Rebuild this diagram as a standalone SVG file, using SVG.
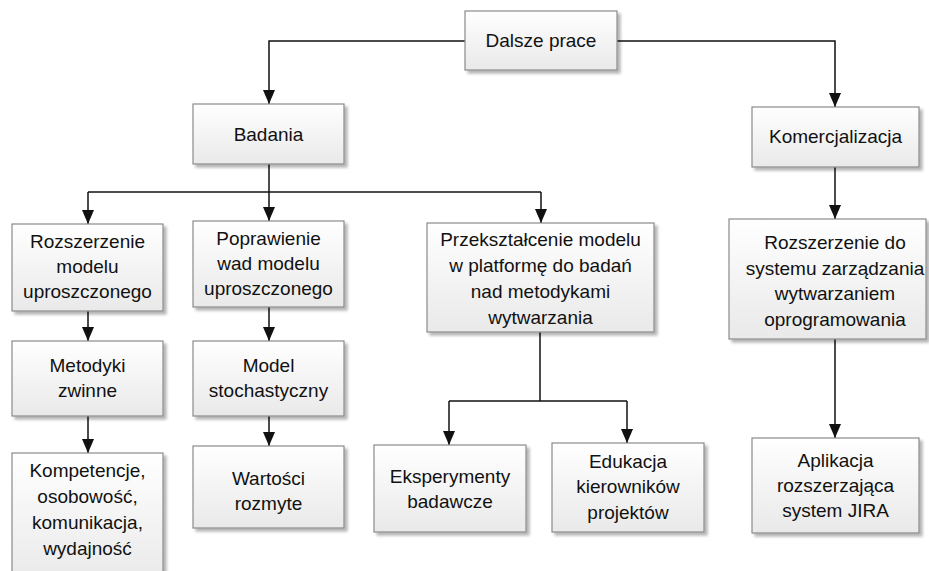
<svg xmlns="http://www.w3.org/2000/svg" width="929" height="571" viewBox="0 0 929 571">
  <defs>
    <linearGradient id="boxFill" x1="0" y1="0" x2="0" y2="1">
      <stop offset="0" stop-color="#ffffff"/>
      <stop offset="1" stop-color="#e9e9e9"/>
    </linearGradient>
    <filter id="shadow" x="-10%" y="-10%" width="130%" height="130%">
      <feGaussianBlur in="SourceAlpha" stdDeviation="1.5"/>
      <feOffset dx="2.5" dy="2.5" result="off"/>
      <feComponentTransfer><feFuncA type="linear" slope="0.3"/></feComponentTransfer>
      <feMerge><feMergeNode/><feMergeNode in="SourceGraphic"/></feMerge>
    </filter>
    <!-- arrowhead: tip at the end of the path -->
    <marker id="arrow" viewBox="0 0 14 12" refX="14" refY="6" markerWidth="14" markerHeight="12" markerUnits="userSpaceOnUse" orient="auto">
      <path d="M0,0 L14,6 L0,12 Z" fill="#111"/>
    </marker>
  </defs>
  <style>
    .box { fill: url(#boxFill); stroke: #8a8a8a; stroke-width: 1.2; filter: url(#shadow); }
    .lbl { font-family: "Liberation Sans", Arial, sans-serif; font-size: 19px; fill: #111; text-anchor: middle; }
    .conn { fill: none; stroke: #111; stroke-width: 1.5; }
  </style>
  <rect width="929" height="571" fill="#ffffff"/>

  <!-- connectors -->
  <g id="connectors">
    <path class="conn" d="M465,41 H269 V104" marker-end="url(#arrow)"/>
    <path class="conn" d="M617,41 H835 V107" marker-end="url(#arrow)"/>
    <path class="conn" d="M269,164 V192"/>
    <path class="conn" d="M88,192 H541"/>
    <path class="conn" d="M88,192 V224" marker-end="url(#arrow)"/>
    <path class="conn" d="M269,192 V221" marker-end="url(#arrow)"/>
    <path class="conn" d="M541,192 V223" marker-end="url(#arrow)"/>
    <path class="conn" d="M88,311 V341" marker-end="url(#arrow)"/>
    <path class="conn" d="M269,307 V341" marker-end="url(#arrow)"/>
    <path class="conn" d="M88,416 V453" marker-end="url(#arrow)"/>
    <path class="conn" d="M269,416 V446" marker-end="url(#arrow)"/>
    <path class="conn" d="M540,332 V401"/>
    <path class="conn" d="M449,401 H627"/>
    <path class="conn" d="M449,401 V445" marker-end="url(#arrow)"/>
    <path class="conn" d="M627,401 V443" marker-end="url(#arrow)"/>
    <path class="conn" d="M835,167 V219" marker-end="url(#arrow)"/>
    <path class="conn" d="M835,339 V438" marker-end="url(#arrow)"/>
  </g>

  <!-- nodes -->
  <g id="dalsze-prace">
    <rect class="box" x="465" y="11" width="152" height="59"/>
    <text class="lbl" x="541" y="47">Dalsze prace</text>
  </g>
  <g id="badania">
    <rect class="box" x="193" y="104" width="151" height="60"/>
    <text class="lbl" x="268.5" y="141">Badania</text>
  </g>
  <g id="komercjalizacja">
    <rect class="box" x="752" y="107" width="167" height="60"/>
    <text class="lbl" x="835.5" y="143">Komercjalizacja</text>
  </g>
  <g id="rozszerzenie-modelu">
    <rect class="box" x="12" y="224" width="151" height="87"/>
    <text class="lbl" x="87.5" y="248">Rozszerzenie</text>
    <text class="lbl" x="87.5" y="273">modelu</text>
    <text class="lbl" x="87.5" y="298">uproszczonego</text>
  </g>
  <g id="poprawienie-wad">
    <rect class="box" x="193" y="221" width="151" height="86"/>
    <text class="lbl" x="268.5" y="245">Poprawienie</text>
    <text class="lbl" x="268.5" y="270">wad modelu</text>
    <text class="lbl" x="268.5" y="295">uproszczonego</text>
  </g>
  <g id="przeksztalcenie">
    <rect class="box" x="427" y="223" width="227" height="109"/>
    <text class="lbl" x="540.5" y="246">Przekształcenie modelu</text>
    <text class="lbl" x="540.5" y="272">w platformę do badań</text>
    <text class="lbl" x="540.5" y="298">nad metodykami</text>
    <text class="lbl" x="540.5" y="324">wytwarzania</text>
  </g>
  <g id="rozszerzenie-systemu">
    <rect class="box" x="729" y="219" width="197" height="120"/>
    <text class="lbl" x="835" y="249">Rozszerzenie do</text>
    <text class="lbl" x="835" y="275">systemu zarządzania</text>
    <text class="lbl" x="835" y="300">wytwarzaniem</text>
    <text class="lbl" x="835" y="326">oprogramowania</text>
  </g>
  <g id="metodyki-zwinne">
    <rect class="box" x="12" y="341" width="151" height="75"/>
    <text class="lbl" x="87.5" y="372">Metodyki</text>
    <text class="lbl" x="87.5" y="397">zwinne</text>
  </g>
  <g id="model-stochastyczny">
    <rect class="box" x="193" y="341" width="151" height="75"/>
    <text class="lbl" x="268.5" y="372">Model</text>
    <text class="lbl" x="268.5" y="397">stochastyczny</text>
  </g>
  <g id="kompetencje">
    <rect class="box" x="12" y="453" width="151" height="130"/>
    <text class="lbl" x="87.5" y="477">Kompetencje,</text>
    <text class="lbl" x="87.5" y="503">osobowość,</text>
    <text class="lbl" x="87.5" y="529">komunikacja,</text>
    <text class="lbl" x="87.5" y="555">wydajność</text>
  </g>
  <g id="wartosci-rozmyte">
    <rect class="box" x="193" y="446" width="151" height="82"/>
    <text class="lbl" x="268.5" y="485">Wartości</text>
    <text class="lbl" x="268.5" y="510">rozmyte</text>
  </g>
  <g id="eksperymenty">
    <rect class="box" x="374" y="445" width="152" height="87"/>
    <text class="lbl" x="450" y="483">Eksperymenty</text>
    <text class="lbl" x="450" y="508">badawcze</text>
  </g>
  <g id="edukacja">
    <rect class="box" x="552" y="443" width="152" height="89"/>
    <text class="lbl" x="628" y="468">Edukacja</text>
    <text class="lbl" x="628" y="493">kierowników</text>
    <text class="lbl" x="628" y="519">projektów</text>
  </g>
  <g id="aplikacja-jira">
    <rect class="box" x="752" y="438" width="167" height="95"/>
    <text class="lbl" x="835.5" y="467">Aplikacja</text>
    <text class="lbl" x="835.5" y="492">rozszerzająca</text>
    <text class="lbl" x="835.5" y="517">system JIRA</text>
  </g>
</svg>
